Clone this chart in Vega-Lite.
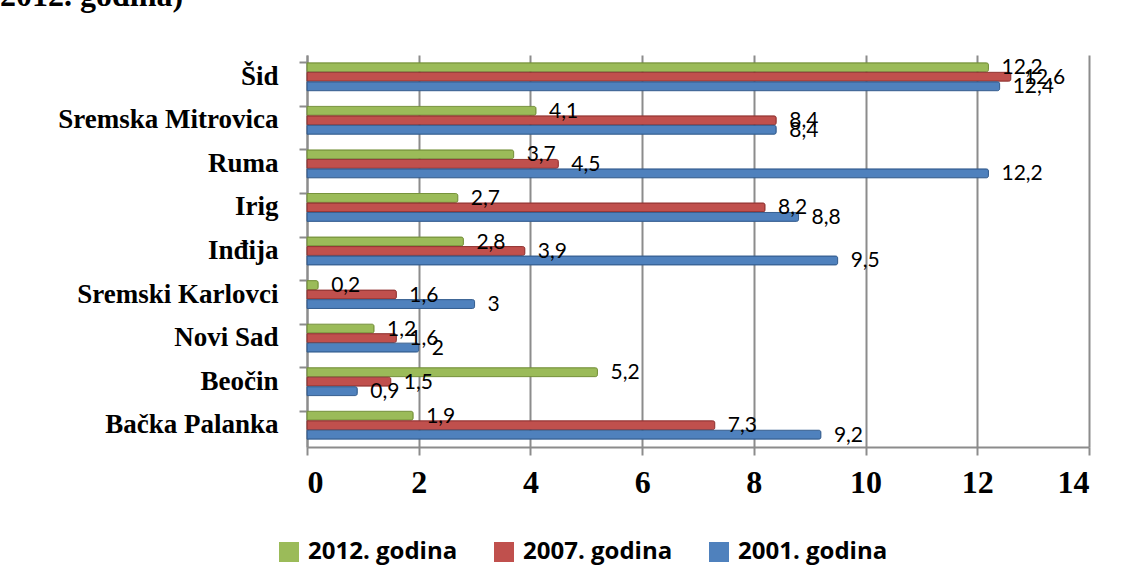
{
  "$schema": "https://vega.github.io/schema/vega-lite/v6.json",
  "autosize": "none",
  "width": 782,
  "height": 392,
  "padding": {"left": 307, "top": 55, "right": 48, "bottom": 139},
  "background": "white",
  "title": {
    "text": "2012. godina)",
    "anchor": "start",
    "frame": "group",
    "font": "Liberation Serif",
    "fontSize": 32,
    "fontWeight": "bold",
    "color": "black",
    "baseline": "alphabetic",
    "offset": 0,
    "dy": -17,
    "dx": -307
  },
  "config": {
    "locale": {"number": {"decimal": ",", "thousands": ".", "grouping": [3], "currency": ["", ""]}},
    "view": {"stroke": null}
  },
  "data": {
    "values": [
      {"opstina": "Šid", "godina": "2012. godina", "vrednost": 12.2},
      {"opstina": "Šid", "godina": "2007. godina", "vrednost": 12.6},
      {"opstina": "Šid", "godina": "2001. godina", "vrednost": 12.4},
      {"opstina": "Sremska Mitrovica", "godina": "2012. godina", "vrednost": 4.1},
      {"opstina": "Sremska Mitrovica", "godina": "2007. godina", "vrednost": 8.4},
      {"opstina": "Sremska Mitrovica", "godina": "2001. godina", "vrednost": 8.4},
      {"opstina": "Ruma", "godina": "2012. godina", "vrednost": 3.7},
      {"opstina": "Ruma", "godina": "2007. godina", "vrednost": 4.5},
      {"opstina": "Ruma", "godina": "2001. godina", "vrednost": 12.2},
      {"opstina": "Irig", "godina": "2012. godina", "vrednost": 2.7},
      {"opstina": "Irig", "godina": "2007. godina", "vrednost": 8.2},
      {"opstina": "Irig", "godina": "2001. godina", "vrednost": 8.8},
      {"opstina": "Inđija", "godina": "2012. godina", "vrednost": 2.8},
      {"opstina": "Inđija", "godina": "2007. godina", "vrednost": 3.9},
      {"opstina": "Inđija", "godina": "2001. godina", "vrednost": 9.5},
      {"opstina": "Sremski Karlovci", "godina": "2012. godina", "vrednost": 0.2},
      {"opstina": "Sremski Karlovci", "godina": "2007. godina", "vrednost": 1.6},
      {"opstina": "Sremski Karlovci", "godina": "2001. godina", "vrednost": 3},
      {"opstina": "Novi Sad", "godina": "2012. godina", "vrednost": 1.2},
      {"opstina": "Novi Sad", "godina": "2007. godina", "vrednost": 1.6},
      {"opstina": "Novi Sad", "godina": "2001. godina", "vrednost": 2},
      {"opstina": "Beočin", "godina": "2012. godina", "vrednost": 5.2},
      {"opstina": "Beočin", "godina": "2007. godina", "vrednost": 1.5},
      {"opstina": "Beočin", "godina": "2001. godina", "vrednost": 0.9},
      {"opstina": "Bačka Palanka", "godina": "2012. godina", "vrednost": 1.9},
      {"opstina": "Bačka Palanka", "godina": "2007. godina", "vrednost": 7.3},
      {"opstina": "Bačka Palanka", "godina": "2001. godina", "vrednost": 9.2}
    ]
  },
  "encoding": {
    "y": {
      "field": "opstina",
      "type": "nominal",
      "sort": null,
      "scale": {"paddingInner": 0.36, "paddingOuter": 0.18},
      "axis": {
        "title": null,
        "bandPosition": 0,
        "domainColor": "#8c8c8c",
        "domainWidth": 2,
        "tickColor": "#8c8c8c",
        "tickWidth": 2,
        "tickSize": 8,
        "labelFont": "Liberation Serif",
        "labelFontSize": 27,
        "labelFontWeight": "bold",
        "labelColor": "black",
        "labelPadding": 21,
        "labelLimit": 0
      }
    },
    "yOffset": {
      "field": "godina",
      "type": "nominal",
      "sort": ["2012. godina", "2007. godina", "2001. godina"],
      "scale": {"paddingInner": 0.06}
    },
    "x": {
      "field": "vrednost",
      "type": "quantitative",
      "scale": {"domain": [0, 14], "nice": false},
      "axis": {
        "title": null,
        "values": [0, 2, 4, 6, 8, 10, 12, 14],
        "grid": true,
        "gridColor": "#8c8c8c",
        "gridWidth": 2,
        "domainColor": "#8c8c8c",
        "domainWidth": 2,
        "tickColor": "#8c8c8c",
        "tickWidth": 2,
        "tickSize": 8,
        "labelFont": "Liberation Serif",
        "labelFontSize": 32,
        "labelFontWeight": "bold",
        "labelColor": "black",
        "labelPadding": 12,
        "format": "d"
      }
    }
  },
  "layer": [
    {
      "mark": {"type": "bar", "strokeWidth": 1, "cornerRadiusEnd": 2},
      "encoding": {
        "color": {
          "field": "godina",
          "type": "nominal",
          "sort": ["2012. godina", "2007. godina", "2001. godina"],
          "scale": {
            "domain": ["2012. godina", "2007. godina", "2001. godina"],
            "range": ["#9BBB59", "#C0504D", "#4F81BD"]
          },
          "legend": {
            "title": null,
            "orient": "none",
            "direction": "horizontal",
            "legendX": -30,
            "legendY": 485,
            "symbolType": "square",
            "symbolSize": 400,
            "symbolStrokeWidth": 0,
            "symbolOpacity": 1,
            "labelFont": "Open Sans",
            "labelFontSize": 24,
            "labelFontWeight": "bold",
            "labelColor": "black",
            "labelOffset": 7,
            "columnPadding": 34
          }
        },
        "stroke": {
          "field": "godina",
          "type": "nominal",
          "scale": {
            "domain": ["2012. godina", "2007. godina", "2001. godina"],
            "range": ["#77933C", "#943634", "#365F91"]
          },
          "legend": null
        }
      }
    },
    {
      "mark": {"type": "text", "align": "left", "baseline": "middle", "dx": 13, "dy": 1, "font": "Lato", "fontSize": 21, "color": "black"},
      "encoding": {
        "text": {"field": "vrednost", "type": "quantitative", "format": ".1~f"}
      }
    }
  ]
}
